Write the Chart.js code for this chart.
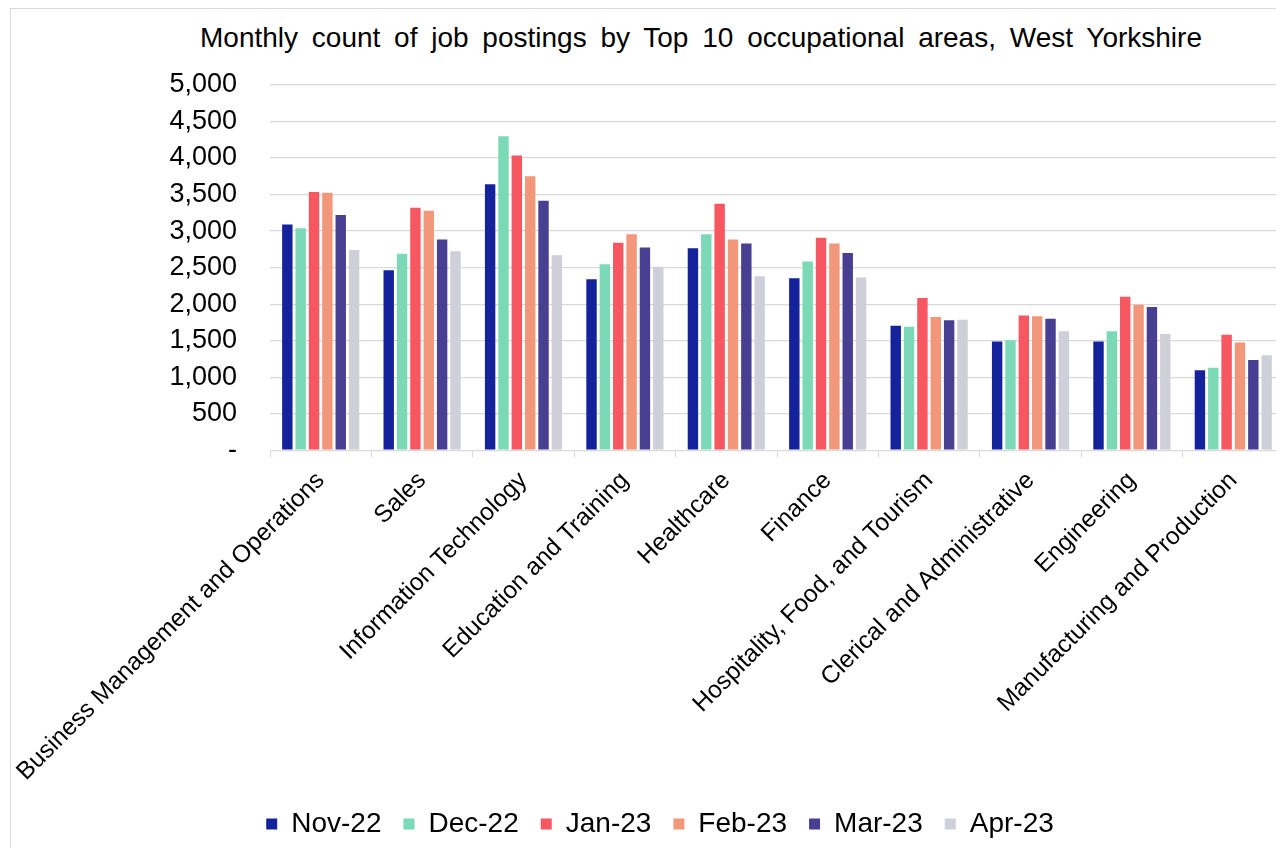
<!DOCTYPE html>
<html><head><meta charset="utf-8">
<script src="https://cdn.jsdelivr.net/npm/chart.js@4"></script>
<style>
html,body{margin:0;padding:0;background:#fff;overflow:hidden;width:1276px;height:848px;}
#frame{position:absolute;left:10px;top:8px;width:1400px;height:900px;border-left:1px solid #d9d9d9;border-top:1px solid #d9d9d9;}
#title{position:absolute;left:0;top:22px;width:1402px;text-align:center;font:28px "Liberation Sans",Arial,sans-serif;word-spacing:6px;color:#000;white-space:nowrap;}
#wrap{position:absolute;left:11px;top:9px;width:1273px;height:839px;}
</style></head>
<body>
<div id="frame"></div>
<div id="title">Monthly count of job postings by Top 10 occupational areas, West Yorkshire</div>
<div id="wrap"><canvas id="c"></canvas></div>
<script>
const categories = ["Business Management and Operations","Sales","Information Technology","Education and Training","Healthcare","Finance","Hospitality, Food, and Tourism","Clerical and Administrative","Engineering","Manufacturing and Production"];
const seriesNames = ["Nov-22","Dec-22","Jan-23","Feb-23","Mar-23","Apr-23"];
const nov22 = [3090,2465,3640,2340,2765,2355,1705,1490,1490,1095];
const dec22 = [3040,2690,4300,2545,2955,2585,1690,1505,1630,1130];
const jan23 = [3535,3320,4035,2840,3375,2910,2085,1845,2100,1580];
const feb23 = [3525,3280,3750,2955,2885,2830,1825,1835,1990,1475];
const mar23 = [3220,2885,3415,2775,2830,2700,1780,1800,1960,1235];
const apr23 = [2740,2725,2670,2510,2380,2365,1785,1630,1590,1300];
const yTickLabels = ["-","500","1,000","1,500","2,000","2,500","3,000","3,500","4,000","4,500","5,000"];
const colors = ["#14239b","#7bd9b8","#f65761","#f3977a","#483f93","#cecfd8"];

const seriesValues = [nov22, dec22, jan23, feb23, mar23, apr23];
Chart.defaults.font.family = '"Liberation Sans", Arial, sans-serif';
Chart.defaults.color = '#000';

new Chart(document.getElementById('c'), {
  type: 'bar',
  data: {
    labels: categories,
    datasets: seriesNames.map((n, i) => ({
      label: n,
      data: seriesValues[i],
      backgroundColor: colors[i],
      borderWidth: 0,
      barPercentage: 0.78,
      categoryPercentage: 0.79
    }))
  },
  options: {
    responsive: true,
    maintainAspectRatio: false,
    devicePixelRatio: 1,
    animation: false,
    layout: { padding: { top: 76, left: 25, right: 0, bottom: 0 } },
    plugins: {
      title: { display: false },
      tooltip: { enabled: false },
      legend: {
        position: 'bottom',
        labels: { boxWidth: 11, boxHeight: 11, padding: 22, font: { size: 28 }, color: '#000' }
      }
    },
    scales: {
      x: {
        ticks: { font: { size: 24.5 }, maxRotation: 45, minRotation: 45, padding: 9, autoSkip: false, color: '#000' },
        grid: { drawOnChartArea: false, color: '#d9d9d9', tickLength: 7, offset: true },
        border: { display: true, color: '#d9d9d9' },
        afterFit: (s) => { s.height -= 7.5; s.paddingLeft = 0; s.paddingRight = 0; }
      },
      y: {
        min: 0, max: 5000,
        ticks: { stepSize: 500, autoSkip: false, font: { size: 27 }, padding: 33, color: '#000',
          callback: (v) => yTickLabels[Math.round(v / 500)] },
        grid: { color: '#d9d9d9', drawTicks: false, lineWidth: 1.2 },
        border: { display: false },
        afterFit: (s) => { s.width = 234; }
      }
    }
  }
});
</script>
</body></html>
